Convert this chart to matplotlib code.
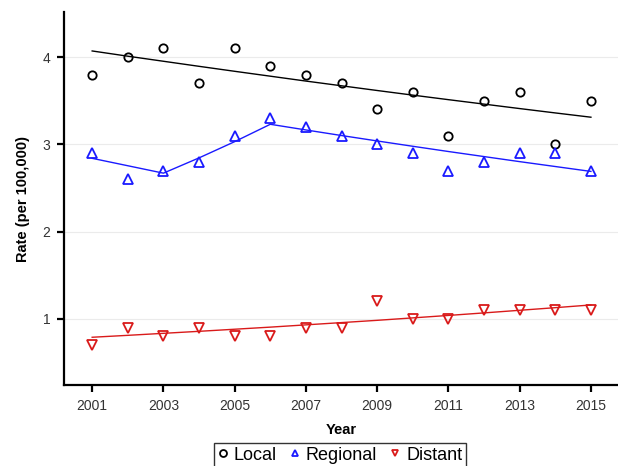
import matplotlib
matplotlib.use("Agg")
import matplotlib.pyplot as plt
from matplotlib.lines import Line2D

plt.rcParams['font.family'] = ['Liberation Sans', 'DejaVu Sans']

years = [2001, 2002, 2003, 2004, 2005, 2006, 2007, 2008,
         2009, 2010, 2011, 2012, 2013, 2014, 2015]

local_obs = [3.8, 4.0, 4.1, 3.7, 4.1, 3.9, 3.8, 3.7, 3.4, 3.6, 3.1, 3.5, 3.6, 3.0, 3.5]
regional_obs = [2.9, 2.6, 2.7, 2.8, 3.1, 3.3, 3.2, 3.1, 3.0, 2.9, 2.7, 2.8, 2.9, 2.9, 2.7]
distant_obs = [0.7, 0.9, 0.8, 0.9, 0.8, 0.8, 0.9, 0.9, 1.2, 1.0, 1.0, 1.1, 1.1, 1.1, 1.1]

# modelled trend values per year
local_fit = [4.07, 4.010, 3.952, 3.894, 3.837, 3.781, 3.725, 3.671,
             3.617, 3.564, 3.512, 3.461, 3.410, 3.360, 3.311]
regional_fit = [2.84, 2.755, 2.67, 2.845, 3.031, 3.23, 3.165, 3.101,
                3.039, 2.978, 2.918, 2.860, 2.802, 2.746, 2.69]
distant_fit = [0.79, 0.812, 0.835, 0.858, 0.882, 0.906, 0.932, 0.958,
               0.984, 1.012, 1.04, 1.069, 1.099, 1.129, 1.16]

series_names = ["Local", "Regional", "Distant"]
colors = ["black", "#1a1aff", "#d91a1a"]
markers = ["o", "^", "v"]
marker_sizes = [6, 7, 7]

fig = plt.figure(figsize=(6.18, 4.66), dpi=100)
ax = fig.add_axes([0.1036, 0.174, 0.8964, 0.8])

obs_all = [local_obs, regional_obs, distant_obs]
fit_all = [local_fit, regional_fit, distant_fit]
for name, obs, fit, c, m, ms in zip(series_names, obs_all, fit_all, colors,
                                    markers, marker_sizes):
    ax.plot(years, fit, color=c, lw=1.0, zorder=2)
    ax.plot(years, obs, linestyle="none", marker=m, markersize=ms,
            markerfacecolor="none", markeredgecolor=c, markeredgewidth=1.3,
            zorder=3)

ax.set_xlim(2000.21, 2015.76)
ax.set_ylim(0.244, 4.515)
ax.set_xticks([2001, 2003, 2005, 2007, 2009, 2011, 2013, 2015])
ax.set_yticks([1, 2, 3, 4])
ax.yaxis.grid(True, color="#ebebeb", lw=0.8)
ax.set_axisbelow(True)

for side in ["top", "right"]:
    ax.spines[side].set_visible(False)
for side in ["left", "bottom"]:
    ax.spines[side].set_linewidth(1.6)
ax.tick_params(axis="both", length=5, width=1.6, labelsize=10,
               labelcolor="#333333", pad=5)

ax.set_xlabel("Year", fontsize=10.5, fontweight="bold", labelpad=7)
ax.set_ylabel("Rate (per 100,000)", fontsize=10.5, fontweight="bold", labelpad=9)

handles = [Line2D([], [], linestyle="none", marker=m, markersize=5,
                  markerfacecolor="none", markeredgecolor=c, markeredgewidth=1.3)
           for c, m in zip(colors, markers)]
leg = fig.legend(handles, series_names, loc="upper center",
                 bbox_to_anchor=(0.55, 0.049), ncol=3, fontsize=13,
                 frameon=True, fancybox=False, edgecolor="black",
                 handlelength=0.6, handletextpad=0.3, columnspacing=0.7,
                 borderpad=0.2, borderaxespad=0)
leg.get_frame().set_linewidth(1.0)

fig.savefig("out.png", dpi=100)
